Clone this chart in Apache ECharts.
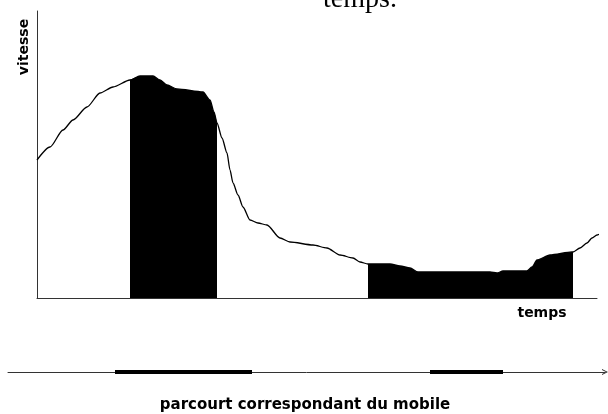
<!DOCTYPE html>
<html>
<head>
<meta charset="utf-8">
<script src="https://cdn.jsdelivr.net/npm/echarts@6/dist/echarts.min.js"></script>
<style>
html,body{margin:0;padding:0;background:#fff;}
#chart{width:608px;height:414px;}
</style>
</head>
<body>
<div id="chart"></div>
<script>
// time (arbitrary units) and speed (arbitrary units)
const times  = [0, 13, 26, 36, 50, 63, 76, 93, 103, 116, 123, 130, 140, 166, 173, 177, 180, 185, 190, 193, 196, 201, 206, 213, 221, 230, 243, 253, 276, 290, 303, 316, 323, 331, 353, 363, 373, 381, 453, 460, 466, 490, 495, 500, 513, 535, 536, 543, 550, 555, 560, 563];
const speeds = [138, 151, 168, 178, 191, 205, 211, 218, 222, 222, 218, 213, 209, 206, 198, 186, 175, 160, 145, 128, 115, 103, 91, 78, 75, 73, 60, 56, 53, 50, 43, 40, 36, 34, 34, 32, 30, 26, 26, 25, 27, 27, 31, 38, 43, 46, 46, 50, 55, 60, 63, 64];
// shaded time intervals
const shadedIntervals = [[93, 180], [331, 536]];
// corresponding path travelled (distance units along the lower line)
const pathMax = 597;
const pathSegments = [[107, 244], [422, 495]];
// texts
const yName = 'vitesse';
const xName = 'temps';
const topText = 'temps.';
const pathText = 'parcourt correspondant du mobile';

const curve = times.map((t, i) => [t, speeds[i]]);
const smoothing = 0.25;
const shadedSeries = shadedIntervals.map(([a, b]) => ({
  type: 'line', xAxisIndex: 0, yAxisIndex: 0,
  data: curve.filter(p => p[0] >= a && p[0] <= b),
  symbol: 'none', smooth: smoothing, smoothMonotone: 'x', lineStyle: {width: 0},
  areaStyle: {color: '#000', opacity: 1}, silent: true, z: 2
}));
const pathSeries = pathSegments.map(([a, b]) => ({
  type: 'line', xAxisIndex: 1, yAxisIndex: 1,
  data: [[a, 0], [b, 0]], symbol: 'none', clip: false,
  lineStyle: {color: '#000', width: 4}, silent: true, z: 5
}));

const chart = echarts.init(document.getElementById('chart'), null, {renderer: 'canvas'});
const hidden = {show: false};
chart.setOption({
  animation: false,
  backgroundColor: '#fff',
  grid: [
    {left: 37, top: 11, right: 11, bottom: 116},
    {left: 8, right: 3, top: 362, height: 10}
  ],
  xAxis: [
    {type: 'value', gridIndex: 0, min: 0, max: 560,
     axisLine: {show: true, onZero: false, lineStyle: {color: '#333', width: 1}},
     axisTick: hidden, axisLabel: hidden, splitLine: hidden},
    {type: 'value', gridIndex: 1, min: 0, max: pathMax,
     axisLine: {show: true, onZero: false, lineStyle: {color: '#333', width: 1},
       symbol: ['none', 'path://M0,10 L5,0 L10,10 L8.3,10 L5,3.4 L1.7,10 Z'],
       symbolSize: [11, 6]},
     axisTick: hidden, axisLabel: hidden, splitLine: hidden}
  ],
  yAxis: [
    {type: 'value', gridIndex: 0, min: 0, max: 287,
     axisLine: {show: true, onZero: false, lineStyle: {color: '#333', width: 1}},
     axisTick: hidden, axisLabel: hidden, splitLine: hidden},
    {type: 'value', gridIndex: 1, min: 0, max: 1, show: false}
  ],
  series: [
    ...shadedSeries,
    {type: 'line', xAxisIndex: 0, yAxisIndex: 0, data: curve, symbol: 'none',
     smooth: smoothing, smoothMonotone: 'x',
     clip: false, lineStyle: {color: '#000', width: 1.3}, silent: true, z: 3},
    ...pathSeries
  ],
  graphic: [
    {type: 'text', x: 360, y: 0, style: {text: topText, font: '28px "Liberation Serif"', fill: '#000', align: 'center', verticalAlign: 'middle'}},
    {type: 'text', x: 24, y: 47, rotation: Math.PI / 2, style: {text: yName, font: 'bold 14px "DejaVu Sans"', fill: '#000', align: 'center', verticalAlign: 'middle'}},
    {type: 'text', x: 542, y: 313, style: {text: xName, font: 'bold 14px "DejaVu Sans"', fill: '#000', align: 'center', verticalAlign: 'middle'}},
    {type: 'text', x: 305, y: 405, style: {text: pathText, font: 'bold 15px "DejaVu Sans"', fill: '#000', align: 'center', verticalAlign: 'middle'}}
  ]
});
</script>
</body>
</html>
